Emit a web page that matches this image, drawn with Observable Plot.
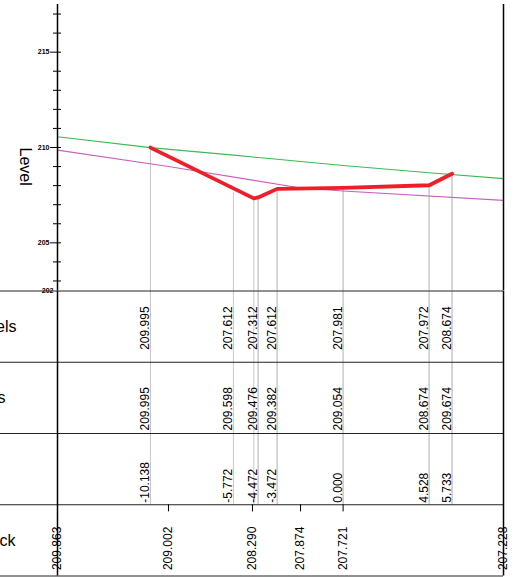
<!DOCTYPE html>
<html><head><meta charset="utf-8">
<script src="https://cdn.jsdelivr.net/npm/d3@7"></script>
<script src="https://cdn.jsdelivr.net/npm/@observablehq/plot@0.6"></script>
<style>
body{margin:0;background:#fff;}
#chart{width:519px;height:577px;overflow:hidden;position:relative;}
#chart svg{display:block;}
</style></head><body><div id="chart"></div>
<script>
// ---- data ----
const xDomain = [-15.03, 8.44];
const levelDomain = [202.5, 217.5];
const levelTicks = [205, 210, 215];
const levelMinorTicks = [203, 204, 206, 207, 208, 209, 211, 212, 213, 214, 216, 217];
const levelBottomTick = [202.5];
const levelBottomLabel = "202";
const sectionOffsets = [-10.138, -5.772, -4.472, -3.472, 0, 4.528, 5.733];
const existingLabels = [209.995, 207.612, 207.312, 207.612, 207.981, 207.972, 208.674];
const designLabels = ["209.995", "209.598", "209.476", "209.382", "209.054", "208.674", "209.674"];
const greenOffsets = [-15.03, -10.138, -5.772, -4.472, -3.472, 0, 4.528, 8.44];
const greenLevels = [210.56, 209.995, 209.598, 209.476, 209.382, 209.054, 208.674, 208.37];
const redOffsets = [-10.138, -4.70, -4.472, -3.472, 0, 4.528, 5.733];
const redLevels = [209.995, 207.33, 207.38, 207.83, 207.88, 208.02, 208.62];
const trackOffsets = [-15.03, -9.19, -4.77, -2.24, 0, 8.44];
const trackLevels = [209.863, 209.002, 208.290, 207.874, 207.721, 207.228];
const trackLabels = ["209.863", "209.002", "208.290", "207.874", "207.721", "207.228"];
const rowLabels = ["Existing Levels", "Design Levels", "Offsets", "Existing Track"];

// ---- tables built from the arrays ----
const green = greenOffsets.map((o, i) => ({o, v: greenLevels[i]}));
const red = redOffsets.map((o, i) => ({o, v: redLevels[i]}));
const track = trackOffsets.map((o, i) => ({o, v: trackLevels[i], label: trackLabels[i]}));
const sections = sectionOffsets.map((o, i) => ({
  o, v: existingLabels[i], ex: existingLabels[i].toFixed(3),
  de: designLabels[i], off: o.toFixed(3)
}));
const guides = sections.map(d => ({o: d.o, v: d.v})).concat(red.map(d => ({o: d.o, v: d.v})));
const font = "'Liberation Sans', Arial, sans-serif";
const txt = 12;

const topPlot = Plot.plot({
  width: 519, height: 290,
  marginLeft: 57, marginRight: 16, marginTop: 4, marginBottom: 0,
  x: {domain: xDomain, axis: null},
  y: {domain: levelDomain, axis: null},
  style: {fontFamily: font, background: "transparent", overflow: "visible", color: "black"},
  marks: [
    Plot.ruleX(guides, {x: "o", y1: "v", y2: levelDomain[0], stroke: "#c8c8c8", strokeWidth: 1}),
    Plot.line(green, {x: "o", y: "v", stroke: "#3cba54", strokeWidth: 1.1}),
    Plot.line(track, {x: "o", y: "v", stroke: "#cc5fbf", strokeWidth: 1.1}),
    Plot.line(red, {x: "o", y: "v", stroke: "#f01e28", strokeWidth: 3.8, strokeLinejoin: "round"}),
    Plot.ruleX([xDomain[0]], {stroke: "black", strokeWidth: 1.5}),
    Plot.ruleX([xDomain[1]], {stroke: "black", strokeWidth: 1.5}),
    Plot.axisY(levelMinorTicks, {tickSize: 8, dx: 4, tickFormat: () => "", label: null, stroke: "black"}),
    Plot.axisY(levelTicks, {tickSize: 11, dx: 4, tickPadding: 1, fontSize: 7, fontWeight: "bold", label: null, stroke: "black"}),
    Plot.axisY(levelBottomTick, {tickSize: 0, dx: 4, tickPadding: 8, fontSize: 7, fontWeight: "bold", label: null, tickFormat: () => levelBottomLabel}),
    Plot.text(["Level"], {frameAnchor: "left", rotate: 90, dx: -32, fontSize: 16})
  ]
});

const tablePlot = Plot.plot({
  width: 519, height: 287,
  marginLeft: 0, marginRight: 16, marginTop: 0, marginBottom: 0,
  x: {domain: xDomain, range: [57, 503], axis: null},
  y: {domain: [0, 4], range: [0.5, 285.5], axis: null},
  style: {fontFamily: font, background: "transparent", color: "black"},
  marks: [
    Plot.ruleX(guides, {x: "o", y1: 0, y2: 3, stroke: "#c8c8c8", strokeWidth: 1}),
    Plot.ruleY([0, 1, 2, 3, 4], {stroke: "#222", strokeWidth: 1}),
    Plot.ruleX(xDomain, {y1: 0, y2: 4, stroke: "black", strokeWidth: 1.5}),
    Plot.ruleX(track.slice(1, -1), {x: "o", y1: 3, y2: 3.1, stroke: "black"}),
    Plot.text(sections, {x: "o", y: 0.5, text: "ex", rotate: -90, lineAnchor: "bottom", dx: -1, dy: 1.5, fontSize: txt}),
    Plot.text(sections, {x: "o", y: 2, text: "de", rotate: -90, lineAnchor: "bottom", textAnchor: "start", dx: -1, dy: -3, fontSize: txt}),
    Plot.text(sections, {x: "o", y: 3, text: "off", rotate: -90, lineAnchor: "bottom", textAnchor: "start", dx: -1, dy: -2, fontSize: txt}),
    Plot.text(track, {x: "o", y: 3.5, text: "label", rotate: -90, lineAnchor: "middle", dy: 8, fontSize: txt}),
    Plot.text([rowLabels[0]], {frameAnchor: "left", y: 0.5, textAnchor: "end", dx: 16, fontSize: 16}),
    Plot.text([rowLabels[1]], {frameAnchor: "left", y: 1.5, textAnchor: "end", dx: 5, fontSize: 16}),
    Plot.text([rowLabels[3]], {frameAnchor: "left", y: 3.5, textAnchor: "end", dx: 15, fontSize: 16})
  ]
});

const el = document.getElementById("chart");
el.appendChild(topPlot);
el.appendChild(tablePlot);
</script>
</body></html>
